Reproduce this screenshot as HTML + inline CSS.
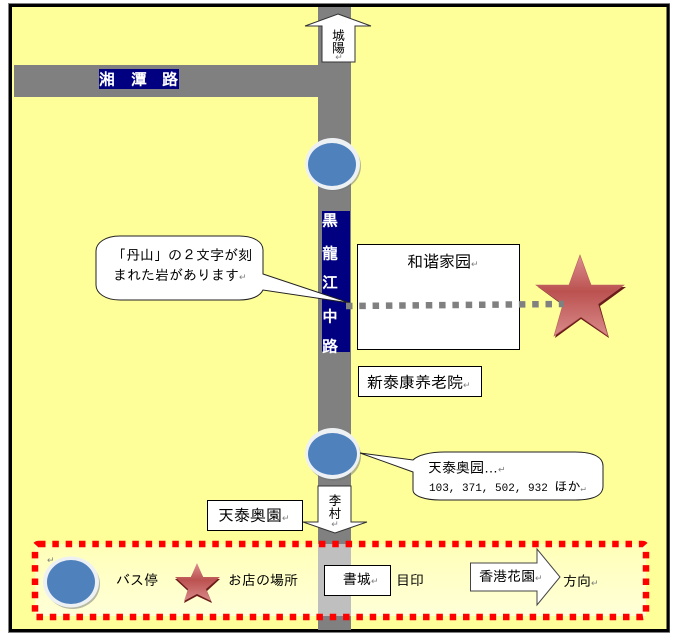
<!DOCTYPE html>
<html lang="ja">
<head>
<meta charset="utf-8">
<title>地図</title>
<style>
html,body{margin:0;padding:0;background:#fff;width:674px;height:642px;overflow:hidden}
svg{display:block}
text{font-family:"Liberation Sans","IPAGothic","Noto Sans CJK JP",sans-serif;font-size:14px;fill:#000}
.r{font-size:9px;fill:#808080}
.w{fill:#fff;font-size:16px;font-weight:bold;text-anchor:middle}
.b{font-size:16px}
.v{font-size:13px;text-anchor:middle}
.m{font-family:"Liberation Mono","IPAGothic",monospace;font-size:11px}
</style>
</head>
<body>
<svg width="674" height="642" viewBox="0 0 674 642" xmlns="http://www.w3.org/2000/svg">
<defs>
<linearGradient id="starG" x1="0" y1="0" x2="0" y2="1">
<stop offset="0" stop-color="#dc8f90"/>
<stop offset="0.45" stop-color="#bb5250"/>
<stop offset="1" stop-color="#d98a8a"/>
</linearGradient>
<linearGradient id="legG" x1="0" y1="0" x2="0" y2="1">
<stop offset="0" stop-color="#ffffb8"/>
<stop offset="1" stop-color="#ffffd8"/>
</linearGradient>
</defs>
<rect x="0" y="0" width="674" height="642" fill="#fff"/>
<rect x="8.500" y="3.500" width="661" height="629" fill="none" stroke="#808080" stroke-width="1"/>
<rect x="10.500" y="5.500" width="657.500" height="625" fill="#ffff99" stroke="#000" stroke-width="3"/>

<rect x="318" y="7" width="33" height="623" fill="#808080"/>
<rect x="14" y="65" width="304" height="32" fill="#808080"/>

<!-- road labels -->
<rect x="99" y="69" width="80" height="20" fill="#000080"/>
<text class="w" x="107" y="85">湘</text>
<text class="w" x="139" y="85">潭</text>
<text class="w" x="170" y="85">路</text>
<rect x="322" y="211" width="28" height="141" fill="#000080"/>
<text class="w" x="330" y="226">黒</text>
<text class="w" x="330" y="259">龍</text>
<text class="w" x="330" y="288">江</text>
<text class="w" x="330" y="322">中</text>
<text class="w" x="330" y="352">路</text>

<!-- top arrow -->
<polygon points="338,14 371,26 355,26 355,62 322,62 322,26 305,26" fill="#fff" stroke="#333" stroke-width="1"/>
<text x="338.500" y="40" class="v">城</text>
<text x="338.500" y="52.500" class="v">陽</text>
<text x="339" y="60" text-anchor="middle" class="r">↵</text>

<!-- bus stop 1 -->
<ellipse cx="334" cy="166" rx="27" ry="25" fill="#6f7370" opacity=".5"/>
<ellipse cx="332.500" cy="164" rx="27.500" ry="26" fill="#eef1f4"/>
<ellipse cx="332" cy="164.500" rx="24" ry="21.500" fill="#4f81bd"/>

<!-- callout 1 -->
<path d="M120,236 H239 C254,236 263,242 263,250 V274 L350,303 L263,290 C260,296 252,300 239,300 H120 C105,300 96,293 96,285 V251 C96,243 105,236 120,236 Z" fill="#fff" stroke="#222" stroke-width="1"/>
<text x="112" y="260">「丹山」の２文字が刻</text>
<text x="113" y="280">まれた岩があります<tspan class="r">↵</tspan></text>

<!-- building box -->
<rect x="357.500" y="244.500" width="162" height="105" fill="#fff" stroke="#000" stroke-width="1"/>
<text x="407" y="267" class="b">和谐家园<tspan class="r">↵</tspan></text>

<!-- big star -->
<polygon points="580,257 592,287 626,287 600,306 609,338 581,319 555,338 564,306 538,287 570,287" fill="#6b1c1a"/>
<polygon points="580,255 591,285 624,285 598,304 608,336 581,317 554,336 563,304 536,285 569,285" fill="url(#starG)" stroke="#b9605e" stroke-width=".6"/>

<!-- dotted line -->
<line x1="346" y1="306" x2="564" y2="304" stroke="#808080" stroke-width="6.500" stroke-dasharray="6.500 6.800"/>

<!-- 新泰 -->
<rect x="358.500" y="366.500" width="123" height="30" fill="#fff" stroke="#000" stroke-width="1"/>
<text x="367" y="388" class="b">新泰康养老院<tspan class="r">↵</tspan></text>

<!-- bus stop 2 -->
<ellipse cx="334" cy="456" rx="27" ry="25" fill="#6f7370" opacity=".5"/>
<ellipse cx="332.500" cy="453.500" rx="27.500" ry="25.500" fill="#eef1f4"/>
<ellipse cx="332.500" cy="454" rx="24.500" ry="21" fill="#4f81bd"/>

<!-- callout 2 -->
<path d="M360,453 L413,460 C418,455 430,452 445,452 H575 C595,452 603,458 603,466 V486 C603,495 595,500 575,500 H440 C425,500 413,496 413,490 V472 Z" fill="#fff" stroke="#222" stroke-width="1"/>
<text x="428" y="472.500">天泰奥园…<tspan class="r">↵</tspan></text>
<text x="429" y="491" class="m">103, 371, 502, 932 <tspan style="font-size:13px">ほか</tspan><tspan class="r">↵</tspan></text>

<!-- legend panel -->
<rect x="35" y="544" width="611" height="72" fill="url(#legG)"/>
<rect x="318" y="544" width="33" height="72" fill="#bfbfbf"/>

<!-- down arrow -->
<polygon points="318,486 351,486 351,522 367,522 335,533 303,522 318,522" fill="#fff" stroke="#333" stroke-width="1"/>
<text x="335" y="505" class="v">李</text>
<text x="335" y="518" class="v">村</text>
<text x="335" y="527" text-anchor="middle" class="r">↵</text>

<!-- 天泰奥園 -->
<rect x="207.500" y="500.500" width="95" height="30" fill="#fff" stroke="#000" stroke-width="1"/>
<text x="218" y="521" class="b">天泰奥園<tspan class="r">↵</tspan></text>

<!-- dashed border -->
<path d="M39,544 H642 Q646,544 646,548 V613 Q646,617 642,617 H35 V548 Q35,544 39,544 Z" fill="none" stroke="#ff0000" stroke-width="6.500" stroke-dasharray="6.500 6.830"/>

<!-- legend items -->
<text x="47" y="563" class="r">↵</text>
<ellipse cx="72.500" cy="584" rx="27.500" ry="25" fill="#6f7370" opacity=".5"/>
<ellipse cx="71" cy="582" rx="28" ry="25.500" fill="#eef1f4"/>
<ellipse cx="71" cy="582" rx="24" ry="22" fill="#4f81bd"/>
<text x="116" y="585">バス停</text>

<polygon points="197,564 204,579 220,579 207,591 212,603 197,596 184,603 188,591 175,579 190,579" fill="#6b1c1a"/>
<polygon points="197,563 203,577 220,577 206,589 211,601 197,594 184,601 188,589 175,577 191,577" fill="url(#starG)"/>
<text x="228" y="585">お店の場所</text>

<rect x="324.500" y="565.500" width="66" height="30" fill="#fff" stroke="#000" stroke-width="1"/>
<text x="343" y="584">書城<tspan class="r">↵</tspan></text>
<text x="396" y="585">目印</text>

<polygon points="470.500,563 537,563 537,549 560,577 537,605 537,591 470.500,591" fill="#fff" stroke="#444" stroke-width="1"/>
<text x="479" y="581">香港花園<tspan class="r">↵</tspan></text>
<text x="563" y="586">方向<tspan class="r">↵</tspan></text>
</svg>
</body>
</html>
